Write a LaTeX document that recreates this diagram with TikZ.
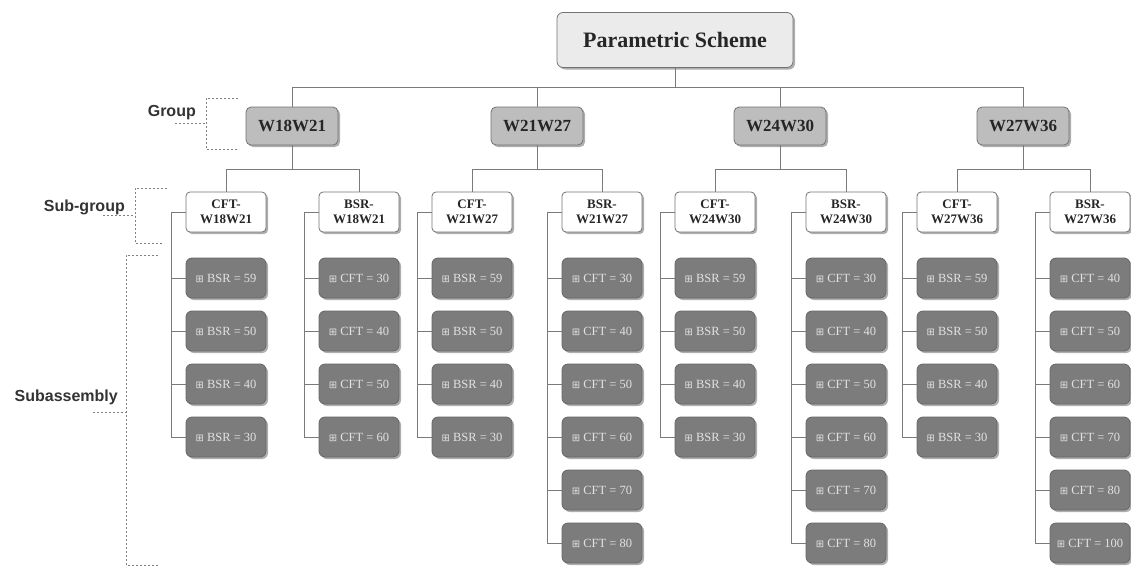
\documentclass[tikz,border=0pt]{standalone}
\usepackage{fontspec}
\setmainfont{Liberation Serif}
\newfontfamily\labelfont{Liberation Sans}
\newfontfamily\symfont{DejaVu Sans}
\usetikzlibrary{shadows}
\definecolor{linegray}{HTML}{7A7A7A}
\definecolor{rootfill}{HTML}{EBEBEB}
\definecolor{groupfill}{HTML}{BDBDBD}
\definecolor{subfill}{HTML}{7C7C7C}
\definecolor{subtext}{HTML}{E2E2E2}
\definecolor{labelgray}{HTML}{333333}
\tikzset{
  boxshadow/.style={drop shadow={shadow xshift=2pt,shadow yshift=-2pt,fill=black!45,opacity=0.7}},
  rootbox/.style={draw=black!55,fill=rootfill,rounded corners=6pt,line width=0.8pt,
    minimum width=236pt,minimum height=55pt,inner sep=0pt,boxshadow,
    font=\fontsize{22}{24}\selectfont\bfseries,text=black!85},
  groupbox/.style={draw=black!55,fill=groupfill,rounded corners=5pt,line width=0.8pt,
    minimum width=92pt,minimum height=38pt,inner sep=0pt,boxshadow,
    font=\fontsize{17}{19}\selectfont\bfseries,text=black!85},
  subgroupbox/.style={draw=black!55,fill=white,rounded corners=4pt,line width=0.8pt,
    minimum width=80pt,minimum height=40pt,inner sep=0pt,boxshadow,align=center,
    font=\fontsize{13}{15}\selectfont\bfseries,text=black!85},
  subbox/.style={draw=black!60,fill=subfill,rounded corners=6pt,line width=0.8pt,
    minimum width=80pt,minimum height=40pt,inner sep=0pt,boxshadow,
    font=\fontsize{12.5}{14}\selectfont,text=subtext},
  conn/.style={draw=linegray,line width=0.9pt},
  levellabel/.style={font=\labelfont\fontsize{16}{18}\selectfont\bfseries,text=labelgray,inner sep=0pt,anchor=east},
  bracket/.style={draw=black!50,line width=0.9pt,dash pattern=on 2pt off 2pt}
}
\begin{document}
\begin{tikzpicture}[x=1pt,y=-1pt]
\useasboundingbox (0,0) rectangle (1131,570);
% root
\node[rootbox] (root) at (675,40) {Parametric Scheme};
% groups
\node[groupbox] (g1) at (292,126) {W18W21};
\node[groupbox] (g2) at (537,126) {W21W27};
\node[groupbox] (g3) at (780,126) {W24W30};
\node[groupbox] (g4) at (1023,126) {W27W36};
% subgroups
\node[subgroupbox] (s1a) at (226,212) {CFT-\\W18W21};
\node[subgroupbox] (s1b) at (359,212) {BSR-\\W18W21};
\node[subgroupbox] (s2a) at (472,212) {CFT-\\W21W27};
\node[subgroupbox] (s2b) at (602,212) {BSR-\\W21W27};
\node[subgroupbox] (s3a) at (715,212) {CFT-\\W24W30};
\node[subgroupbox] (s3b) at (846,212) {BSR-\\W24W30};
\node[subgroupbox] (s4a) at (957,212) {CFT-\\W27W36};
\node[subgroupbox] (s4b) at (1090,212) {BSR-\\W27W36};
% root to groups
\foreach \g in {g1,g2,g3,g4}
  \draw[conn] (root.south) -- (root.south |- 0,87) -| (\g.north);
% groups to subgroups
\foreach \g/\a/\b in {g1/s1a/s1b,g2/s2a/s2b,g3/s3a/s3b,g4/s4a/s4b}{
  \draw[conn] (\g.south) -- (\g.south |- 0,169) -| (\a.north);
  \draw[conn] (\g.south) -- (\g.south |- 0,169) -| (\b.north);
}
% subassemblies
\foreach \n/\x/\p/\vals in {
  s1a/226/BSR/{59,50,40,30},
  s1b/359/CFT/{30,40,50,60},
  s2a/472/BSR/{59,50,40,30},
  s2b/602/CFT/{30,40,50,60,70,80},
  s3a/715/BSR/{59,50,40,30},
  s3b/846/CFT/{30,40,50,60,70,80},
  s4a/957/BSR/{59,50,40,30},
  s4b/1090/CFT/{40,50,60,70,80,100}}{
  \draw[conn] (\n.west) -- ++(-14,0);
  \foreach \v [count=\i] in \vals {
    \pgfmathsetmacro\yy{225+53*\i}
    \node[subbox] (\n-\i) at (\x,\yy) {{\symfont\fontsize{10}{12}\selectfont ⊞} \p{} = \v};
    \draw[conn] (\n.west) -- ++(-14,0) |- (\n-\i.west);
  }
}
% level labels with brackets
\node[levellabel] (lgroup) at (196,113) {Group};
\coordinate (bgt) at (238,98);
\coordinate (bgb) at (238,149);
\draw[bracket] (bgt) -- (206,98) -- (206,149) -- (bgb);
\draw[bracket] (175,123) -- (206,123);
\node[levellabel] (lsub) at (125,207) {Sub-group};
\coordinate (bst) at (167,188);
\coordinate (bsb) at (162,243);
\draw[bracket] (bst) -- (135,188) -- (135,243) -- (bsb);
\draw[bracket] (103,215) -- (135,215);
\node[levellabel] (lass) at (118,397) {Subassembly};
\coordinate (bat) at (158,255);
\coordinate (bab) at (158,565);
\draw[bracket] (bat) -- (126,255) -- (126,565) -- (bab);
\draw[bracket] (93,412) -- (126,412);
\end{tikzpicture}
\end{document}
